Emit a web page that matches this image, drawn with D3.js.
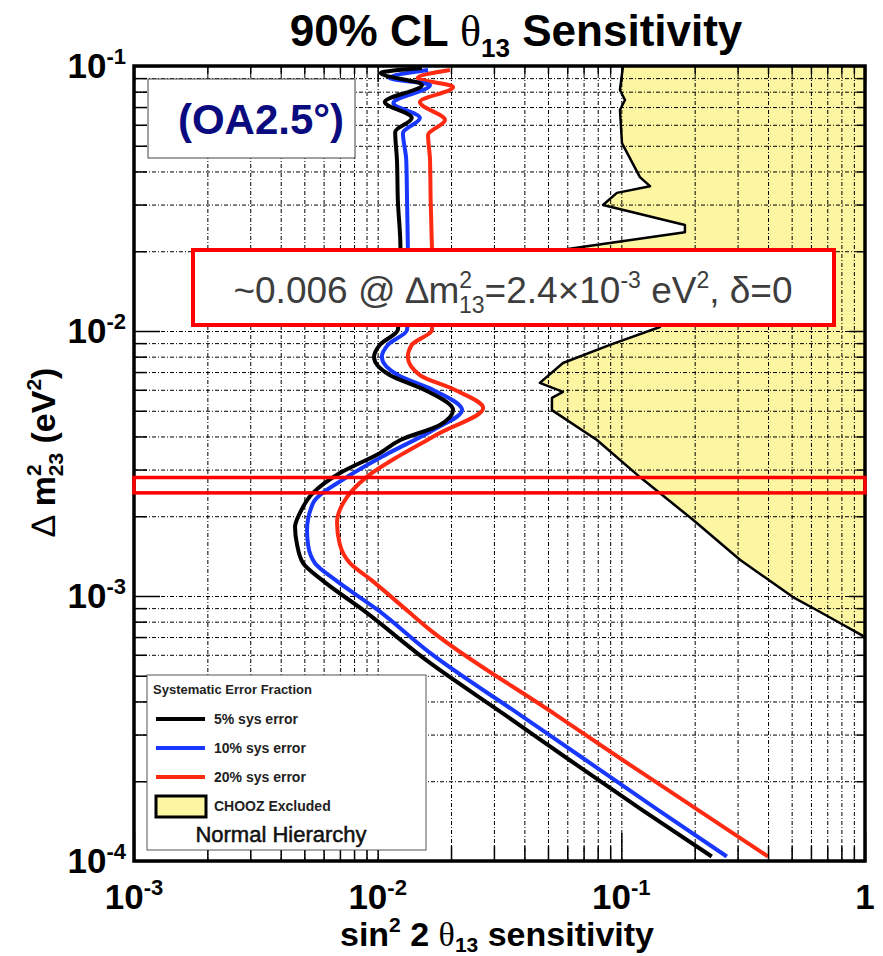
<!DOCTYPE html>
<html>
<head>
<meta charset="utf-8">
<script src="https://cdn.jsdelivr.net/npm/d3@7"></script>
<style>
  body { margin: 0; background: #fff; }
  svg { display: block; }
  text { font-family: "Liberation Sans", Arial, Helvetica, sans-serif; }
</style>
</head>
<body>
<svg id="chart" width="883" height="956"></svg>
<script>
// ---- data: [Δm²23 (eV²), sin²2θ13 sensitivity] ----
const sys5 = [
  [0.0983,0.0152],[0.0941,0.0103],[0.0848,0.0152],[0.0731,0.0107],[0.0637,0.0138],
  [0.0564,0.0118],[0.0442,0.0120],[0.0312,0.0121],[0.0207,0.0124],[0.0131,0.0124],
  [0.0101,0.0121],[0.00886,0.0102],[0.00798,0.00966],[0.00682,0.0112],[0.00599,0.0156],
  [0.00503,0.0204],[0.00442,0.0180],[0.00388,0.0124],[0.00346,0.0102],[0.00291,0.0070],
  [0.00245,0.00543],[0.00206,0.0048],[0.00182,0.00458],[0.00156,0.00467],[0.00133,0.00494],
  [0.00115,0.0059],[0.000886,0.0087],[0.000559,0.0164],[0.000356,0.0333],[0.000240,0.0615],
  [0.000156,0.1215],[0.000104,0.235]
];
const sys10 = [
  [0.0966,0.0161],[0.0901,0.0112],[0.0848,0.0164],[0.0725,0.0116],[0.0637,0.0149],
  [0.0559,0.0127],[0.0442,0.0131],[0.0312,0.0132],[0.0207,0.0133],[0.0131,0.0134],
  [0.0101,0.0132],[0.00886,0.0110],[0.00798,0.0104],[0.00682,0.0121],[0.00599,0.0169],
  [0.00503,0.0222],[0.00423,0.0169],[0.00340,0.0107],[0.00281,0.00748],[0.00224,0.00543],
  [0.00177,0.00513],[0.00156,0.00518],[0.00133,0.00553],[0.00115,0.0067],[0.000886,0.0100],
  [0.00061,0.0164],[0.000356,0.0384],[0.000240,0.0716],[0.000156,0.1413],[0.000104,0.271]
];
const sys20 = [
  [0.0966,0.0198],[0.0901,0.0146],[0.0833,0.0204],[0.0731,0.0149],[0.0625,0.0189],
  [0.0549,0.0161],[0.0442,0.0164],[0.0312,0.0165],[0.0207,0.0167],[0.0131,0.0169],
  [0.0101,0.0167],[0.00886,0.0138],[0.00798,0.0133],[0.00682,0.0149],[0.00599,0.0208],
  [0.00512,0.0271],[0.00412,0.0180],[0.00340,0.0124],[0.00281,0.0090],[0.00224,0.00721],
  [0.00189,0.00681],[0.00156,0.0070],[0.00133,0.0077],[0.00115,0.0094],[0.00087,0.01344],
  [0.000745,0.0164],[0.000356,0.0539],[0.000240,0.1016],[0.000156,0.206],[0.000104,0.400]
];
// CHOOZ excluded region boundary (excluded to the right of it)
const choozLimit = [
  [0.1,0.1016],[0.0812,0.0987],[0.0744,0.1035],[0.0682,0.0987],[0.0512,0.1006],
  [0.0381,0.1192],[0.0352,0.1311],[0.0332,0.0959],[0.0299,0.0841],[0.0251,0.1824],
  [0.0236,0.1824],[0.0197,0.0463],[0.0143,0.0817],[0.01035,0.144],[0.00886,0.0898],
  [0.00757,0.0576],[0.00637,0.0463],[0.00589,0.0576],[0.00559,0.0519],[0.00503,0.0519],
  [0.00388,0.0794],[0.00281,0.1192],[0.00194,0.1967],[0.00137,0.3067],[0.000991,0.506],
  [0.000901,0.6113],[0.000791,0.7888],[0.0007,1.0]
];
const highlightBand = [0.00245, 0.00280];

const seriesNames = ["5% sys error", "10% sys error", "20% sys error"];
const seriesColors = ["#000000", "#1838ff", "#ff2a12"];
const seriesData = [sys5, sys10, sys20];

const xTickValues = [1e-3, 1e-2, 1e-1, 1];
const xTickLabels = [["10","-3"],["10","-2"],["10","-1"],["1",""]];
const yTickValues = [1e-4, 1e-3, 1e-2, 1e-1];
const yTickLabels = [["10","-4"],["10","-3"],["10","-2"],["10","-1"]];

// ---- layout ----
const L = 134, R = 865, T = 66, B = 861;
const svg = d3.select("#chart");

const x = d3.scaleLog().domain([1e-3, 1]).range([L, R]);
const y = d3.scaleLog().domain([1e-4, 1e-1]).range([B, T]);

function decadeTicks(lo, hi) {
  const out = [];
  for (let e = lo; e < hi; e++) for (let k = 1; k <= 9; k++) out.push(k * Math.pow(10, e));
  out.push(Math.pow(10, hi));
  return out;
}
const xAll = decadeTicks(-3, 0), yAll = decadeTicks(-4, -1);
const xMinor = xAll.filter(v => !xTickValues.some(t => Math.abs(v / t - 1) < 1e-9));
const yMinor = yAll.filter(v => !yTickValues.some(t => Math.abs(v / t - 1) < 1e-9));

svg.append("defs").append("clipPath").attr("id", "plot")
  .append("rect").attr("x", L).attr("y", T).attr("width", R - L).attr("height", B - T);

// CHOOZ excluded fill
const fillPts = [[0.1, 1]].concat(choozLimit);
const lineXY = d3.line().x(d => x(d[1])).y(d => y(d[0]));
svg.append("path")
  .attr("d", lineXY(fillPts) + "Z")
  .attr("fill", "#fcf5a2").attr("stroke", "none")
  .attr("clip-path", "url(#plot)");

// dashed grid at every decade subdivision
const grid = svg.append("g").attr("class", "grid");
grid.append("g").attr("transform", `translate(0,${B})`)
  .call(d3.axisBottom(x).tickValues(xAll).tickSize(-(B - T)).tickFormat(""));
grid.append("g").attr("transform", `translate(${L},0)`)
  .call(d3.axisLeft(y).tickValues(yAll).tickSize(-(R - L)).tickFormat(""));
grid.selectAll(".domain").remove();
grid.selectAll("line").attr("stroke", "#000").attr("stroke-width", 1)
  .attr("stroke-dasharray", "4,2,1,2");

// CHOOZ boundary
svg.append("path").attr("d", lineXY(choozLimit))
  .attr("fill", "none").attr("stroke", "#000").attr("stroke-width", 2.5)
  .attr("stroke-linejoin", "round").attr("clip-path", "url(#plot)");

// sensitivity curves (20% first so black sits on top)
const curve = d3.line().x(d => x(d[1])).y(d => y(d[0])).curve(d3.curveMonotoneY);
[2, 1, 0].forEach(i => {
  svg.append("path").attr("d", curve(seriesData[i]))
    .attr("fill", "none").attr("stroke", seriesColors[i]).attr("stroke-width", 4)
    .attr("stroke-linejoin", "round").attr("clip-path", "url(#plot)");
});

// axis ticks on all four sides, pointing inward
function ticks(axisFn, vals, size, tx, ty) {
  const g = svg.append("g").attr("transform", `translate(${tx},${ty})`)
    .call(axisFn.tickValues(vals).tickSize(size).tickFormat(""));
  g.select(".domain").remove();
  g.selectAll("line").attr("stroke", "#000").attr("stroke-width", 1.5);
}
ticks(d3.axisBottom(x), xMinor, -15, 0, B);
ticks(d3.axisBottom(x), xTickValues, -28, 0, B);
ticks(d3.axisTop(x), xMinor, -8, 0, T);
ticks(d3.axisTop(x), xTickValues, -16, 0, T);
ticks(d3.axisLeft(y), yMinor, -13, L, 0);
ticks(d3.axisLeft(y), yTickValues, -26, L, 0);
ticks(d3.axisRight(y), yMinor, -8, R, 0);
ticks(d3.axisRight(y), yTickValues, -16, R, 0);

// frame
svg.append("rect").attr("x", L).attr("y", T).attr("width", R - L).attr("height", B - T)
  .attr("fill", "none").attr("stroke", "#000").attr("stroke-width", 3.5);

// highlighted Δm² band
svg.append("rect")
  .attr("x", L).attr("y", y(highlightBand[1]))
  .attr("width", R - L).attr("height", y(highlightBand[0]) - y(highlightBand[1]))
  .attr("fill", "none").attr("stroke", "#ff0000").attr("stroke-width", 3.5);

// rich text helper: parts = [text, {size, dy, dx, family, weight}]
function rich(g, parts, attrs) {
  const t = g.append("text");
  Object.entries(attrs).forEach(([k, v]) => t.attr(k, v));
  parts.forEach(([s, o]) => {
    const ts = t.append("tspan").text(s);
    if (o.size) ts.attr("font-size", o.size);
    if (o.dy) ts.attr("dy", o.dy);
    if (o.dx) ts.attr("dx", o.dx);
    if (o.family) ts.attr("font-family", o.family);
    if (o.weight) ts.attr("font-weight", o.weight);
  });
  return t;
}

// tick labels
xTickValues.forEach((v, i) => {
  const [base, exp] = xTickLabels[i];
  const parts = [[base, {}]];
  if (exp) parts.push([exp, { size: 22, dy: -14 }]);
  rich(svg, parts, { x: x(v), y: 909, "text-anchor": "middle", "font-size": 35, "font-weight": "bold" });
});
yTickValues.forEach((v, i) => {
  const [base, exp] = yTickLabels[i];
  rich(svg, [[base, {}], [exp, { size: 22, dy: -14 }]],
    { x: 126, y: y(v) + 12, "text-anchor": "end", "font-size": 35, "font-weight": "bold" });
});

// title
rich(svg, [
  ["90% CL ", {}],
  ["θ", { family: "Liberation Serif", weight: "normal" }],
  ["13", { size: 26, dy: 11 }],
  [" Sensitivity", { dy: -11 }]
], { x: 516, y: 46, "text-anchor": "middle", "font-size": 44, "font-weight": "bold" });

// x-axis title
rich(svg, [
  ["sin", {}],
  ["2", { size: 21, dy: -14 }],
  [" 2 ", { dy: 14 }],
  ["θ", { family: "Liberation Serif", weight: "normal" }],
  ["13", { size: 21, dy: 6 }],
  [" sensitivity", { dy: -6 }]
], { x: 497, y: 946, "text-anchor": "middle", "font-size": 34, "font-weight": "bold" });

// y-axis title
const yt = svg.append("g").attr("transform", "translate(55,452) rotate(-90)");
rich(yt, [
  ["∆", { weight: "normal" }],
  [" m", {}],
  ["2", { size: 21, dy: -14 }],
  ["23", { size: 21, dx: -12, dy: 22 }],
  [" (eV", { dy: -8 }],
  ["2", { size: 21, dy: -14 }],
  [")", { dy: 14 }]
], { x: 0, y: 0, "text-anchor": "middle", "font-size": 34, "font-weight": "bold" });

// off-axis angle box
svg.append("rect").attr("x", 148).attr("y", 79).attr("width", 207).attr("height", 79)
  .attr("fill", "#fff").attr("stroke", "#444").attr("stroke-width", 1);
svg.append("text").attr("x", 261).attr("y", 134).attr("text-anchor", "middle")
  .attr("font-size", 42).attr("font-weight", "bold").attr("fill", "#0b0b80")
  .text("(OA2.5°)");

// annotation box
svg.append("rect").attr("x", 193).attr("y", 250).attr("width", 641).attr("height", 75)
  .attr("fill", "#fff").attr("stroke", "#ff0000").attr("stroke-width", 4);
rich(svg, [
  ["~0.006 @ ∆m", {}],
  ["2", { size: 23, dy: -15 }],
  ["13", { size: 23, dx: -13, dy: 25 }],
  ["=2.4×10", { dy: -10 }],
  ["-3", { size: 23, dy: -15 }],
  [" eV", { dy: 15 }],
  ["2", { size: 23, dy: -15 }],
  [", δ=0", { dy: 15 }]
], { x: 513, y: 303, "text-anchor": "middle", "font-size": 37, fill: "#3d3d3d" });

// legend
const lg = svg.append("g");
lg.append("rect").attr("x", 147).attr("y", 675).attr("width", 279).attr("height", 175)
  .attr("fill", "#fff").attr("stroke", "#555").attr("stroke-width", 1);
lg.append("text").attr("x", 153).attr("y", 694).attr("font-size", 13).attr("font-weight", "bold")
  .attr("fill", "#222").text("Systematic Error Fraction");
seriesNames.forEach((name, i) => {
  const yy = 719 + i * 29;
  lg.append("line").attr("x1", 156).attr("x2", 205).attr("y1", yy).attr("y2", yy)
    .attr("stroke", seriesColors[i]).attr("stroke-width", 4);
  lg.append("text").attr("x", 214).attr("y", yy + 5).attr("font-size", 14)
    .attr("font-weight", "bold").attr("fill", "#222").text(name);
});
lg.append("rect").attr("x", 156).attr("y", 796).attr("width", 50).attr("height", 21)
  .attr("fill", "#fcf5a2").attr("stroke", "#000").attr("stroke-width", 3);
lg.append("text").attr("x", 214).attr("y", 811).attr("font-size", 14)
  .attr("font-weight", "bold").attr("fill", "#222").text("CHOOZ Excluded");
lg.append("text").attr("x", 281).attr("y", 842).attr("text-anchor", "middle")
  .attr("font-size", 22).attr("fill", "#111").attr("stroke", "#111").attr("stroke-width", 0.5)
  .text("Normal Hierarchy");
</script>
</body>
</html>
